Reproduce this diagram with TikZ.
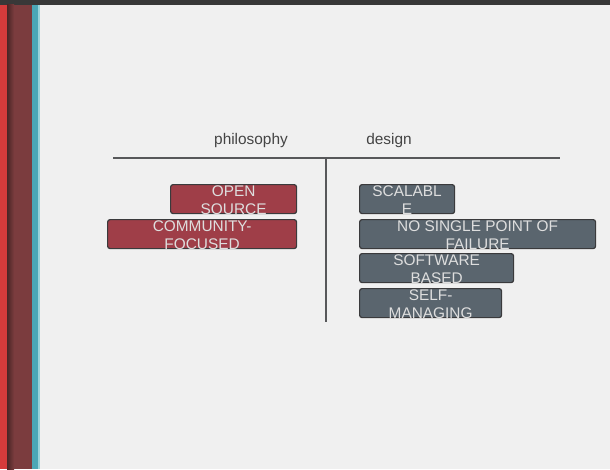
\documentclass[tikz,border=0pt]{standalone}
\usepackage{fontspec}
\setmainfont{Liberation Sans}
\usetikzlibrary{calc}
\definecolor{bg}{HTML}{F0F0F0}
\definecolor{topbar}{HTML}{383838}
\definecolor{stripered}{HTML}{D53B3B}
\definecolor{stripedark}{HTML}{4A2626}
\definecolor{stripemaroon}{HTML}{7B3C3E}
\definecolor{stripeteal}{HTML}{4BA7B6}
\definecolor{stripelteal}{HTML}{9AD3DA}
\definecolor{boxred}{HTML}{9F3E48}
\definecolor{boxgray}{HTML}{5A656E}
\definecolor{boxborder}{HTML}{3A3A3C}
\definecolor{rulecol}{HTML}{57585A}
\definecolor{headcol}{HTML}{444444}
\definecolor{boxtextcol}{HTML}{DEDEDE}
\tikzset{
  tagbox/.style={draw=boxborder, line width=1.2pt, rounded corners=2.5pt, anchor=north west, inner sep=0pt, minimum height=29pt},
  redtag/.style={tagbox, fill=boxred},
  graytag/.style={tagbox, fill=boxgray},
  tagtext/.style={text=boxtextcol, font=\fontsize{15.4}{18}\selectfont, align=center, anchor=base, inner sep=0pt},
  headtext/.style={text=headcol, font=\fontsize{15.4}{18}\selectfont, anchor=base, inner sep=0pt},
  rule/.style={draw=rulecol, line width=2pt}
}
\begin{document}
\begin{tikzpicture}[x=1pt,y=-1pt]
\useasboundingbox (0,0) rectangle (610,469);
\fill[bg] (0,0) rectangle (610,469);
% top bar
\fill[topbar] (0,0) rectangle (610,4.5);
% left stripes
\fill[stripered] (0,4.5) rectangle (7,469);
\shade[left color=stripedark, right color=stripemaroon] (7,4.5) rectangle (14,469);
\fill[stripemaroon] (14,4.5) rectangle (32,469);
\fill[stripeteal] (32,4.5) rectangle (38,469);
\fill[stripelteal] (38,4.5) rectangle (40,469);
% headers
\node[headtext] (phil) at (251,144) {philosophy};
\node[headtext] (des) at (389,144) {design};
% rules
\coordinate (hl) at (113,157.5);
\coordinate (hr) at (560,157.5);
\coordinate (vt) at (326.3,157.5);
\coordinate (vb) at (326.3,321.5);
\draw[rule] (hl) -- (hr);
\draw[rule] (vt) -- (vb);
% philosophy boxes
\node[redtag, minimum width=126pt] (os) at (170,184) {};
\node[tagtext] (ost) at ($(os.north)+(0,30)$) {OPEN\\SOURCE};
\node[redtag, minimum width=189pt] (cf) at (107,219) {};
\node[tagtext] (cft) at ($(cf.north)+(0,30)$) {COMMUNITY-\\FOCUSED};
% design boxes
\node[graytag, minimum width=95pt] (sc) at (359,184) {};
\node[tagtext] (sct) at ($(sc.north)+(0,30)$) {SCALABL\\E};
\node[graytag, minimum width=236pt] (ns) at (359,219) {};
\node[tagtext] (nst) at ($(ns.north)+(0,30)$) {NO SINGLE POINT OF\\FAILURE};
\node[graytag, minimum width=154pt] (sw) at (359,253) {};
\node[tagtext] (swt) at ($(sw.north)+(0,30)$) {SOFTWARE\\BASED};
\node[graytag, minimum width=142pt] (sm) at (359,288) {};
\node[tagtext] (smt) at ($(sm.north)+(0,30)$) {SELF-\\MANAGING};
\end{tikzpicture}
\end{document}
